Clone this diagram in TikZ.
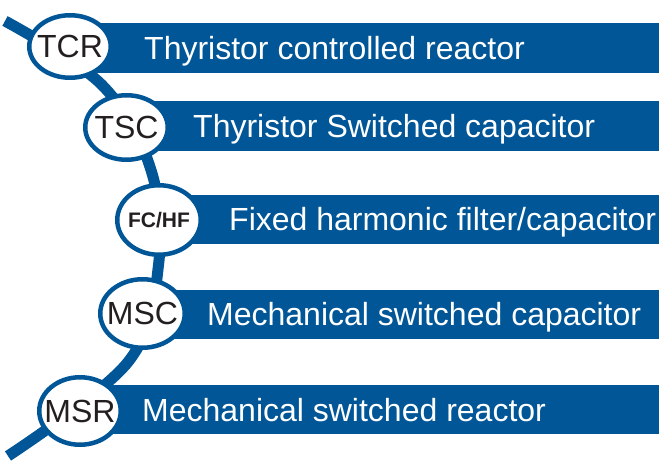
\documentclass[tikz,border=0pt]{standalone}
\usepackage{fontspec}
\setmainfont{Liberation Sans}
\usetikzlibrary{shapes.geometric}
\definecolor{barblue}{RGB}{0,86,150}
\definecolor{tagtext}{RGB}{35,31,32}
\tikzset{
  bar/.style={fill=barblue, draw=none},
  bartext/.style={anchor=base west, inner sep=0pt, text=white, font=\fontsize{32}{36}\selectfont},
  tag/.style={ellipse, draw=barblue, line width=4.5pt, fill=white, inner sep=0pt, text=tagtext, font=\fontsize{32}{36}\selectfont},
  spine/.style={draw=barblue, line width=11pt}
}
\begin{document}
\begin{tikzpicture}[x=1pt,y=-1pt]
\useasboundingbox (0,0) rectangle (659,462);
\begin{scope}
\clip (0,0) rectangle (659,462);
\coordinate (s0) at (5,21);
\coordinate (p1) at (102,85);
\coordinate (p2) at (151,170);
\coordinate (p3) at (158.5,265);
\coordinate (p4) at (128,362);
\coordinate (s6) at (8,456);
\draw[spine] plot[smooth, tension=0.6] coordinates {(s0) (p1) (p2) (p3) (p4) (s6)};
\end{scope}
% bars
\fill[bar] (70,23) rectangle (659,73);
\fill[bar] (126.5,101) rectangle (659,151);
\fill[bar] (159,195) rectangle (659,244);
\fill[bar] (142.5,290) rectangle (659,339);
\fill[bar] (80,385) rectangle (659,434);
% texts
\node[bartext] (t1) at (144,59.5) {Thyristor controlled reactor};
\node[bartext] (t2) at (193,137.5) {Thyristor Switched capacitor};
\node[bartext] (t3) at (229,231) {Fixed harmonic filter/capacitor};
\node[bartext] (t4) at (207,326) {Mechanical switched capacitor};
\node[bartext] (t5) at (142,421) {Mechanical switched reactor};
% tags
\node[tag, minimum width=81.5pt, minimum height=62.5pt] (tcr) at (70,46.5) {\makebox[0pt]{TCR}};
\node[tag, minimum width=82.5pt, minimum height=64.5pt] (tsc) at (126.5,127.5) {\makebox[0pt]{TSC}};
\node[tag, minimum width=83.5pt, minimum height=69.5pt, font=\bfseries\fontsize{21}{24}\selectfont] (fchf) at (159,220) {\makebox[0pt]{FC/HF}};
\node[tag, minimum width=84.5pt, minimum height=68.5pt] (msc) at (142.5,313.5) {\makebox[0pt]{MSC}};
\node[tag, minimum width=81.5pt, minimum height=67.5pt] (msr) at (80,411) {\makebox[0pt]{MSR}};
\end{tikzpicture}
\end{document}
